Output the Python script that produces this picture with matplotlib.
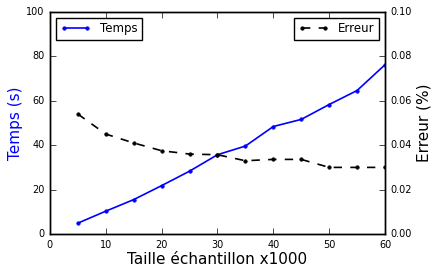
import matplotlib
matplotlib.use('Agg')
import matplotlib.pyplot as plt

# taille des échantillons (x1000)
tailles = [5, 10, 15, 20, 25, 30, 35, 40, 45, 50, 55, 60]
# temps de calcul (s)
temps = [4.9, 10.3, 15.5, 21.8, 28.3, 35.7, 39.6, 48.4, 51.6, 58.3, 64.6, 76.2]
# erreur (%)
erreur = [0.054, 0.045, 0.041, 0.0375, 0.036, 0.0357, 0.033, 0.0336, 0.0336, 0.030, 0.030, 0.030]

plt.style.use('classic')

fig, ax1 = plt.subplots(figsize=(4.38, 2.76), dpi=100)
fig.patch.set_facecolor('white')
fig.subplots_adjust(left=0.114, right=0.879, bottom=0.152, top=0.957)

ax1.plot(tailles, temps, 'b.-', markersize=5, linewidth=1.2, label='Temps')
ax1.set_xlim(0, 60)
ax1.set_ylim(0, 100)
ax1.set_xlabel('Taille échantillon x1000', fontsize=11, labelpad=2)
ax1.set_ylabel('Temps (s)', color='b', fontsize=11, labelpad=2)
ax1.tick_params(labelsize=7)
ax1.legend(loc='upper left', fontsize=8.5, numpoints=2, handlelength=2.5)

ax2 = ax1.twinx()
ax2.plot(tailles, erreur, 'k.--', markersize=5, linewidth=1.2, label='Erreur')
ax2.set_ylim(0, 0.1)
ax2.set_ylabel('Erreur (%)', fontsize=11, labelpad=3)
ax2.tick_params(labelsize=7)
ax2.legend(loc='upper right', fontsize=8.5, numpoints=2, handlelength=2.5)

plt.savefig('out.png', dpi=100, facecolor='white')
plt.close()
